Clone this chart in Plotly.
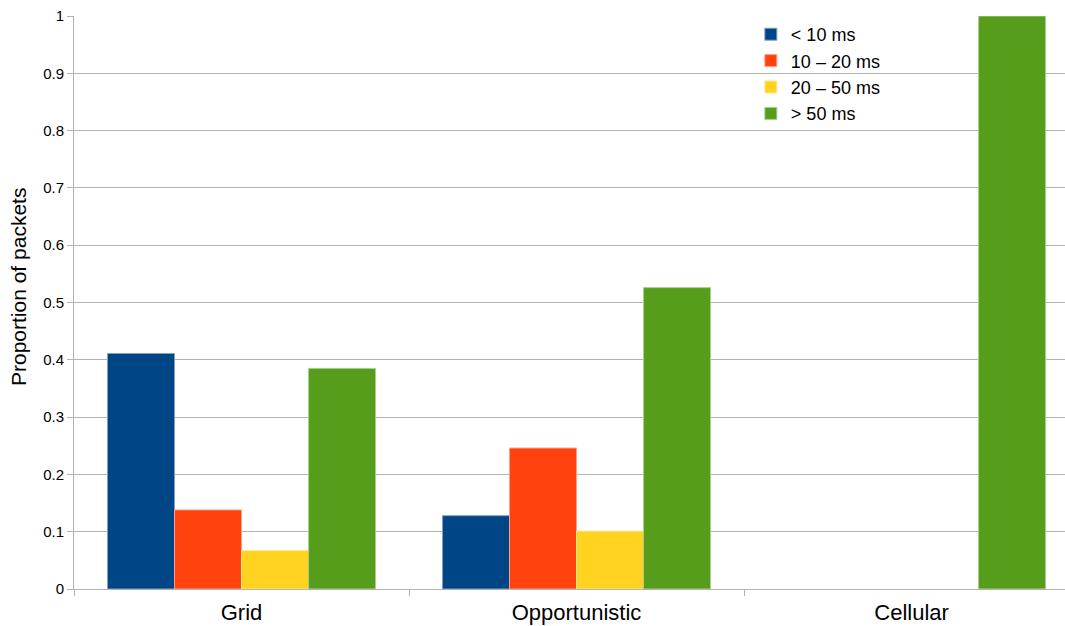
import plotly.graph_objects as go

categories = ["Grid", "Opportunistic", "Cellular"]
series_names = ["< 10 ms", "10 – 20 ms", "20 – 50 ms", "> 50 ms"]
lt10 = [0.411, 0.128, 0.0]
b10_20 = [0.138, 0.246, 0.0]
b20_50 = [0.067, 0.101, 0.0]
gt50 = [0.385, 0.526, 1.0]
y_ticks = [0, 0.1, 0.2, 0.3, 0.4, 0.5, 0.6, 0.7, 0.8, 0.9, 1]
y_title = "Proportion of packets"

colors = ["#004586", "#ff420e", "#ffd320", "#579d1c"]
edge = ["#7fa2c2", "#ffa086", "#ffe98f", "#abce8d"]

fig = go.Figure()
for name, vals, c, e in zip(series_names, [lt10, b10_20, b20_50, gt50], colors, edge):
    fig.add_trace(go.Bar(
        x=categories, y=vals, name=name,
        marker=dict(color=c, line=dict(color=e, width=[1 if v > 0 else 0 for v in vals])),
    ))

fig.update_layout(
    width=1065, height=626,
    margin=dict(l=74, r=0, t=16, b=37),
    paper_bgcolor="white", plot_bgcolor="white",
    barmode="group", bargap=0.2, bargroupgap=0,
    hovermode=False,
    font=dict(family="Liberation Sans, Arial, sans-serif", color="#000000"),
    legend=dict(x=0.683, y=1.0, xanchor="left", yanchor="top",
                font=dict(size=18, color="#000000"), bgcolor="rgba(0,0,0,0)",
                itemwidth=30, tracegroupgap=0),
    showlegend=True,
    annotations=[dict(
        text=y_title, xref="paper", yref="paper", x=-0.0565, y=0.527,
        xanchor="center", yanchor="middle", textangle=-90, showarrow=False,
        font=dict(size=21, color="#000000"),
    )],
)
fig.update_xaxes(
    range=[-0.5, 2.458], showgrid=False, showline=True, linecolor="#b3b3b3",
    ticks="outside", tickson="boundaries", ticklen=6, tickcolor="#b3b3b3",
    tickfont=dict(size=22, color="#000000"), ticklabelstandoff=4, fixedrange=True,
)
fig.update_yaxes(
    range=[0, 1], tickvals=y_ticks, ticktext=[str(t) for t in y_ticks],
    showgrid=True, gridcolor="#b3b3b3", gridwidth=1,
    showline=True, linecolor="#b3b3b3", ticks="outside", ticklen=6, tickcolor="#b3b3b3",
    tickfont=dict(size=15, color="#000000"),
    zeroline=False, fixedrange=True,
)

fig.write_html("out.html", config={"displayModeBar": False, "staticPlot": True},
               post_script="document.body.style.margin='0';")
